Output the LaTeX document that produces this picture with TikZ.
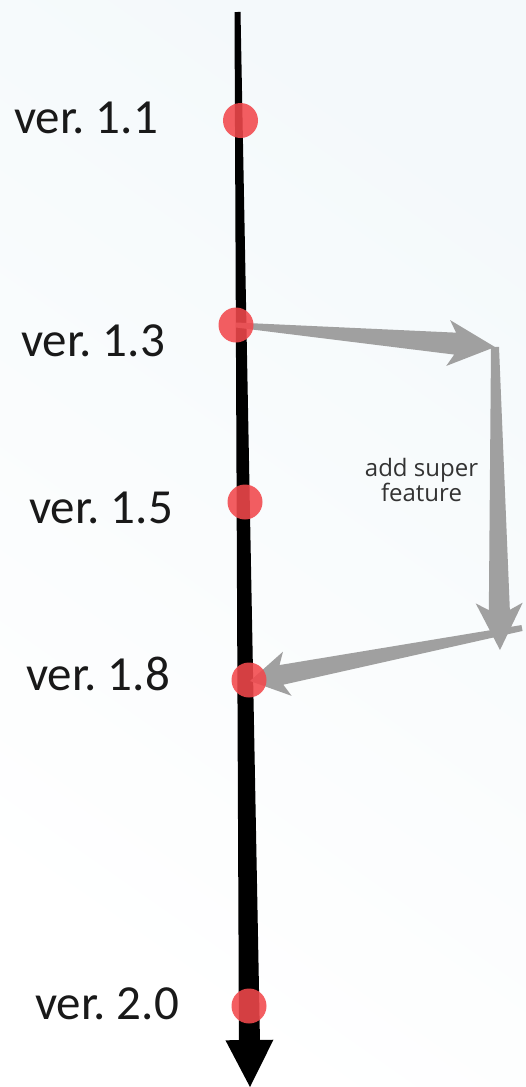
\documentclass[tikz,border=0pt]{standalone}
\usepackage{fontspec}
\setmainfont{Carlito}
\newfontfamily\notefont{Open Sans}
\usetikzlibrary{calc}
\frenchspacing

% Filled arrow whose shaft widens from start to end.
% #1 fill options, #2 start, #3 tip, #4 half width at start,
% #5 half width at head, #6 notch distance from tip,
% #7 barb distance from tip, #8 barb half width
\newcommand\taperarrow[8]{%
  \coordinate (tpN) at ($(#3)!#6!(#2)$);
  \coordinate (tpQ) at ($(#3)!#7!(#2)$);
  \fill[#1] ($(#2)!#4!90:(#3)$) -- ($(tpN)!#5!90:(#3)$)
    -- ($(tpQ)!#8!90:(#3)$) -- (#3) -- ($(tpQ)!#8!-90:(#3)$)
    -- ($(tpN)!#5!-90:(#3)$) -- ($(#2)!#4!-90:(#3)$) -- cycle;
}

\definecolor{dotred}{RGB}{242,72,76}
\definecolor{flowgray}{RGB}{160,160,160}
\definecolor{bgtint}{RGB}{244,249,251}

\tikzset{
  verdot/.style={circle, fill=dotred, fill opacity=0.88, draw=none,
    minimum size=35pt, inner sep=0pt},
  verlabel/.style={anchor=base west, inner sep=0pt,
    font=\fontsize{49}{58}\selectfont, text=black!90},
  notelabel/.style={align=center, inner sep=0pt,
    font=\notefont\fontsize{24}{24}\selectfont, text=black!80},
}

\begin{document}
\begin{tikzpicture}[x=1pt, y=-1pt]
  % page and a faint tint towards the upper right
  \fill[white] (0,0) rectangle (526,1087);
  \shade[bottom color=white, top color=bgtint, shading angle=-35]
    (0,0) rectangle (526,1087);
  \useasboundingbox (0,0) rectangle (526,1087);

  % timeline
  \coordinate (tstart) at (237.5,12);
  \coordinate (tend) at (250,1087);
  \taperarrow{black}{tstart}{tend}{3pt}{10.5pt}{47pt}{47pt}{24pt}

  % feature branch
  \coordinate (c13) at (236,325);
  \coordinate (c18) at (250,681);
  \coordinate (b1) at (495,347);
  \coordinate (b2) at (500,650);
  \coordinate (b3) at (522,628);
  \taperarrow{flowgray}{c13}{b1}{2.5pt}{11pt}{40pt}{47pt}{23pt}
  \taperarrow{flowgray}{b1}{b2}{4pt}{10.5pt}{40pt}{47pt}{23.5pt}
  \taperarrow{flowgray}{b3}{c18}{3pt}{10pt}{32pt}{38pt}{22.5pt}

  % version markers
  \node[verdot] (v11) at (240.5,120.5) {};
  \node[verdot] (v13) at (c13) {};
  \node[verdot] (v15) at (245,502) {};
  \node[verdot] (v18) at (249,680) {};
  \node[verdot] (v20) at (249,1006) {};

  % labels
  \node[verlabel] (l11) at (14,133) {ver. 1.1};
  \node[verlabel] (l13) at (21,356) {ver. 1.3};
  \node[verlabel] (l15) at (29,523) {ver. 1.5};
  \node[verlabel] (l18) at (26,690) {ver. 1.8};
  \node[verlabel] (l20) at (35,1019) {ver. 2.0};

  \node[notelabel] (note) at (421.5,480) {add super\\feature};
\end{tikzpicture}
\end{document}
